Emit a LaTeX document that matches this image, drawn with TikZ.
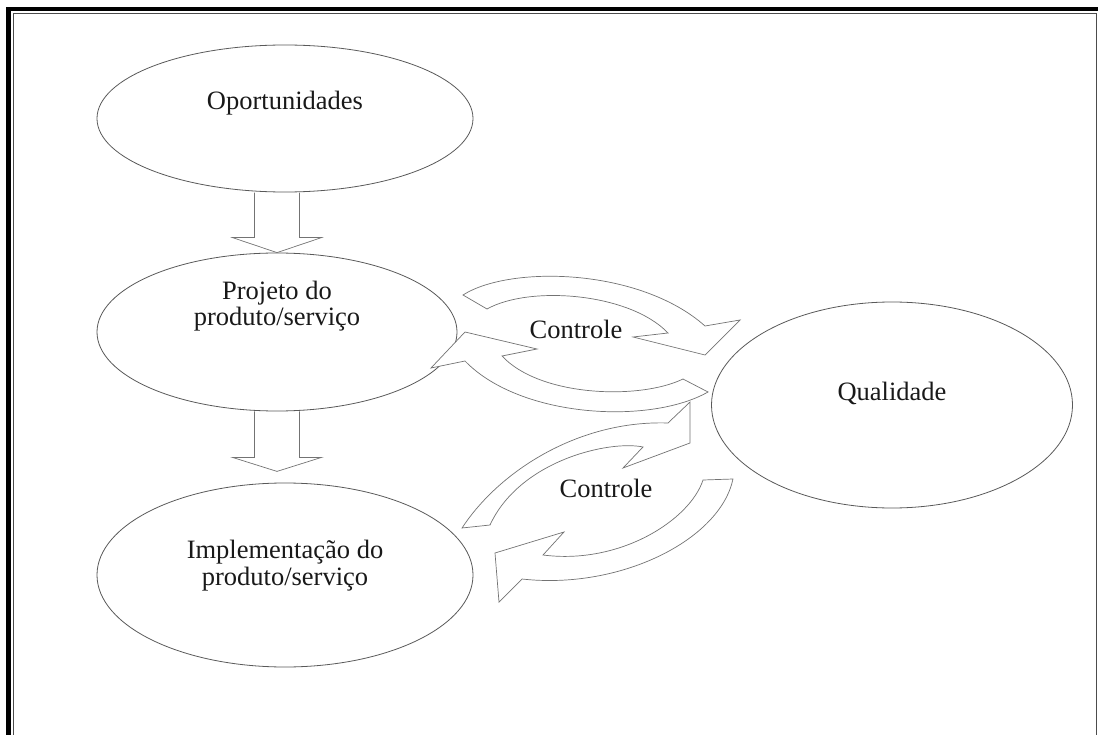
\documentclass[tikz,border=0pt]{standalone}
\usepackage{fontspec}
\setmainfont{Liberation Serif}
\usetikzlibrary{shapes.geometric}
\newcommand{\lifted}[2]{\raisebox{#1}[0pt][0pt]{\begin{tabular}[b]{@{}c@{}}#2\end{tabular}}}

\begin{document}
\begin{tikzpicture}[x=1pt,y=-1pt,line join=miter]
		\tikzstyle{etapa}=[ellipse,draw=black!65,line width=0.8pt,inner sep=0pt,
			text=black!90,font=\fontsize{26.5}{26}\selectfont];
		\tikzstyle{seta}=[draw=black!55,line width=0.7pt,fill=white];
		\tikzstyle{rotulo}=[inner sep=0pt,anchor=base,text=black!90,
			font=\fontsize{26.5}{26}\selectfont];
		\useasboundingbox (0,0) rectangle (1098,735);
		% moldura
		\draw[line width=4.5pt](8.5,735)--(8.5,9)--(1098,9);
		\draw[black!70,line width=1.3pt](13.5,735)--(13.5,13.5)--(1096.5,13.5)--(1096.5,735);

		\node[etapa,minimum width=376pt,minimum height=147pt](op) at (285,118.5){\lifted{8.5pt}{Oportunidades}};
		\node[etapa,minimum width=360pt,minimum height=158pt](pr) at (277,332){\lifted{6pt}{Projeto do\\produto/serviço}};
		\node[etapa,minimum width=376pt,minimum height=184pt](im) at (285,575){\lifted{-10pt}{Implementação do\\produto/serviço}};
		\node[etapa,minimum width=361pt,minimum height=206pt](qu) at (892,405){\lifted{5pt}{Qualidade}};

		% setas largas para baixo
		\draw[seta,fill=none](pr.north)++(-22.5,-60)--++(0,45)--++(-22,0)--(pr.north)--++(44.5,-15)--++(-22,0)--++(0,-45);
		\draw[seta,fill=none](pr.south)++(-22.5,0)--++(0,46)--++(-22,0)--++(44.5,14)--++(44.5,-14)--++(-22,0)--++(0,-46);

		% setas curvas
		\draw[seta](463,295) .. controls (510,265) and (640,268) .. (705,326)--(740,320)--(705,355)--(633,337)--(668,333)
			.. controls (630,293) and (530,285) .. (487,309)--cycle;
		\draw[seta](708,392) .. controls (650,425) and (520,418) .. (465,361)--(431,368)--(465,332)--(537,349)--(502,356)
			.. controls (540,397) and (640,400) .. (683,379)--cycle;
		\draw[seta](462,528) .. controls (500,470) and (580,420) .. (668,423)--(690,402)--(690,443)--(623,468)--(643,447)
			.. controls (610,440) and (520,460) .. (490,525)--cycle;
		\draw[seta](733,479) .. controls (720,540) and (620,590) .. (522,579)--(499,602)--(495,553)--(564,532)--(543,555)
			.. controls (620,565) and (690,520) .. (703,480)--cycle;

		\node[rotulo](c1) at (576,338){Controle};
		\node[rotulo](c2) at (606,497){Controle};
	\end{tikzpicture}
\end{document}
